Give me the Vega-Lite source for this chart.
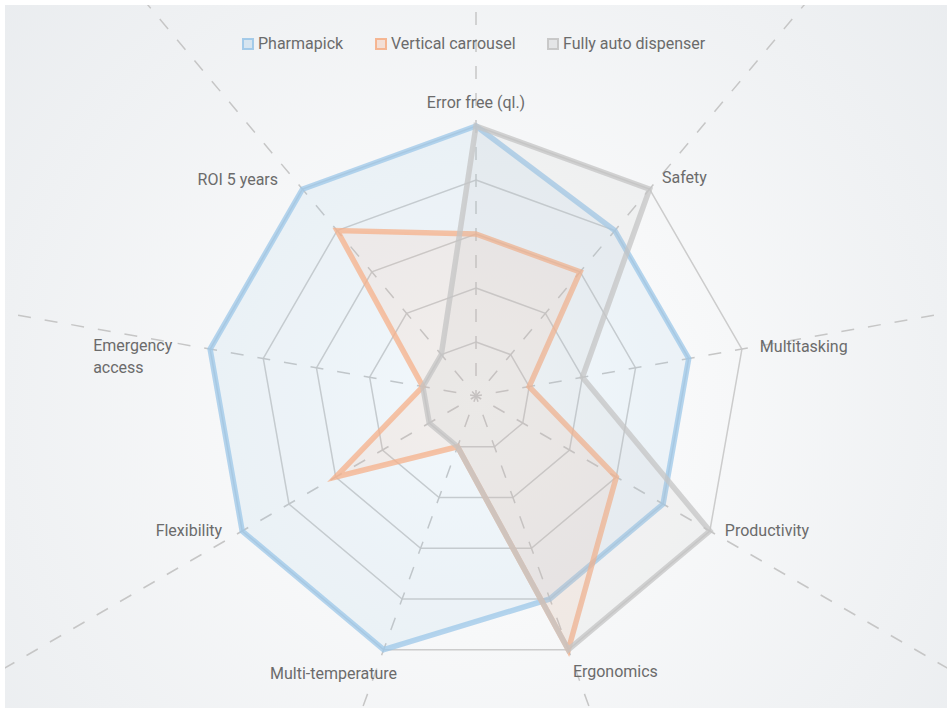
{
  "$schema": "https://vega.github.io/schema/vega-lite/v6.json",
  "width": 952,
  "height": 713,
  "autosize": {"type": "fit", "contains": "padding"},
  "padding": 5,
  "background": "#ffffff",
  "config": {"view": {"stroke": null}, "font": "Roboto"},
  "datasets": {
    "scores": [
      {"series": "Pharmapick", "axis": "Error free (ql.)", "value": 5},
      {"series": "Pharmapick", "axis": "Safety", "value": 4},
      {"series": "Pharmapick", "axis": "Multitasking", "value": 4},
      {"series": "Pharmapick", "axis": "Productivity", "value": 4},
      {"series": "Pharmapick", "axis": "Ergonomics", "value": 4},
      {"series": "Pharmapick", "axis": "Multi-temperature", "value": 5},
      {"series": "Pharmapick", "axis": "Flexibility", "value": 5},
      {"series": "Pharmapick", "axis": "Emergency access", "value": 5},
      {"series": "Pharmapick", "axis": "ROI 5 years", "value": 5},
      {"series": "Vertical carrousel", "axis": "Error free (ql.)", "value": 3},
      {"series": "Vertical carrousel", "axis": "Safety", "value": 3},
      {"series": "Vertical carrousel", "axis": "Multitasking", "value": 1},
      {"series": "Vertical carrousel", "axis": "Productivity", "value": 3},
      {"series": "Vertical carrousel", "axis": "Ergonomics", "value": 5},
      {"series": "Vertical carrousel", "axis": "Multi-temperature", "value": 1},
      {"series": "Vertical carrousel", "axis": "Flexibility", "value": 3},
      {"series": "Vertical carrousel", "axis": "Emergency access", "value": 1},
      {"series": "Vertical carrousel", "axis": "ROI 5 years", "value": 4},
      {"series": "Fully auto dispenser", "axis": "Error free (ql.)", "value": 5},
      {"series": "Fully auto dispenser", "axis": "Safety", "value": 5},
      {"series": "Fully auto dispenser", "axis": "Multitasking", "value": 2},
      {"series": "Fully auto dispenser", "axis": "Productivity", "value": 5},
      {"series": "Fully auto dispenser", "axis": "Ergonomics", "value": 5},
      {"series": "Fully auto dispenser", "axis": "Multi-temperature", "value": 1},
      {"series": "Fully auto dispenser", "axis": "Flexibility", "value": 1},
      {"series": "Fully auto dispenser", "axis": "Emergency access", "value": 1},
      {"series": "Fully auto dispenser", "axis": "ROI 5 years", "value": 1}
    ],
    "axes": [
      {"axis": "Error free (ql.)", "label": "Error free (ql.)", "levels": [1, 2, 3, 4, 5]},
      {"axis": "Safety", "label": "Safety", "levels": [1, 2, 3, 4, 5]},
      {"axis": "Multitasking", "label": "Multitasking", "levels": [1, 2, 3, 4, 5]},
      {"axis": "Productivity", "label": "Productivity", "levels": [1, 2, 3, 4, 5]},
      {"axis": "Ergonomics", "label": "Ergonomics", "levels": [1, 2, 3, 4, 5]},
      {"axis": "Multi-temperature", "label": "Multi-temperature", "levels": [1, 2, 3, 4, 5]},
      {"axis": "Flexibility", "label": "Flexibility", "levels": [1, 2, 3, 4, 5]},
      {"axis": "Emergency access", "label": "Emergency\naccess", "levels": [1, 2, 3, 4, 5]},
      {"axis": "ROI 5 years", "label": "ROI 5 years", "levels": [1, 2, 3, 4, 5]}
    ]
  },
  "layer": [
    {
      "data": {"values": [{"bg": 1}]},
      "mark": {
        "type": "rect",
        "fill": {
          "gradient": "radial",
          "x1": 0.5, "y1": 0.55, "r1": 0,
          "x2": 0.5, "y2": 0.55, "r2": 0.75,
          "stops": [
            {"offset": 0, "color": "#ffffff"},
            {"offset": 1, "color": "#e7eaed"}
          ]
        }
      },
      "encoding": {
        "x": {"value": 0},
        "x2": {"value": "width"},
        "y": {"value": 0},
        "y2": {"value": "height"}
      }
    },
    {
      "data": {"name": "axes"},
      "transform": [
        {"flatten": ["levels"], "as": ["level"]},
        {"calculate": "indexof(['Error free (ql.)','Safety','Multitasking','Productivity','Ergonomics','Multi-temperature','Flexibility','Emergency access','ROI 5 years'], datum.axis)", "as": "i"},
        {"calculate": "datum.i * 2 * PI / 9", "as": "t"},
        {"calculate": "datum.level * sin(datum.t)", "as": "px"},
        {"calculate": "datum.level * cos(datum.t)", "as": "py"}
      ],
      "mark": {"type": "line", "interpolate": "linear-closed", "stroke": "#cccccc", "strokeWidth": 1.5},
      "encoding": {
        "x": {"field": "px", "type": "quantitative", "scale": {"domain": [-8.7222, 8.7222], "nice": false, "zero": false}, "axis": null},
        "y": {"field": "py", "type": "quantitative", "scale": {"domain": [-5.7778, 7.2407], "nice": false, "zero": false}, "axis": null},
        "detail": {"field": "level", "type": "nominal"},
        "order": {"field": "i", "type": "quantitative"}
      }
    },
    {
      "data": {"name": "axes"},
      "transform": [
        {"calculate": "indexof(['Error free (ql.)','Safety','Multitasking','Productivity','Ergonomics','Multi-temperature','Flexibility','Emergency access','ROI 5 years'], datum.axis)", "as": "i"},
        {"calculate": "datum.i * 2 * PI / 9", "as": "t"},
        {"calculate": "0 * datum.i", "as": "cx"},
        {"calculate": "20 * sin(datum.t)", "as": "ex"},
        {"calculate": "20 * cos(datum.t)", "as": "ey"}
      ],
      "mark": {"type": "rule", "clip": true, "stroke": "#c6c6c6", "strokeWidth": 1.5, "strokeDash": [13, 14], "strokeDashOffset": 7},
      "encoding": {
        "x": {"field": "cx", "type": "quantitative", "scale": {"domain": [-8.7222, 8.7222], "nice": false, "zero": false}, "axis": null},
        "y": {"field": "cx", "type": "quantitative", "scale": {"domain": [-5.7778, 7.2407], "nice": false, "zero": false}, "axis": null},
        "x2": {"field": "ex"},
        "y2": {"field": "ey"}
      }
    },
    {
      "data": {"name": "scores"},
      "transform": [
        {"calculate": "indexof(['Error free (ql.)','Safety','Multitasking','Productivity','Ergonomics','Multi-temperature','Flexibility','Emergency access','ROI 5 years'], datum.axis)", "as": "i"},
        {"calculate": "datum.i * 2 * PI / 9", "as": "t"},
        {"calculate": "datum.value * sin(datum.t)", "as": "px"},
        {"calculate": "datum.value * cos(datum.t)", "as": "py"}
      ],
      "mark": {"type": "line", "interpolate": "linear-closed", "strokeWidth": 5.5, "strokeOpacity": 0.75, "fillOpacity": 0.13, "strokeJoin": "miter"},
      "encoding": {
        "x": {"field": "px", "type": "quantitative", "scale": {"domain": [-8.7222, 8.7222], "nice": false, "zero": false}, "axis": null},
        "y": {"field": "py", "type": "quantitative", "scale": {"domain": [-5.7778, 7.2407], "nice": false, "zero": false}, "axis": null},
        "stroke": {
          "field": "series", "type": "nominal",
          "scale": {"domain": ["Pharmapick", "Vertical carrousel", "Fully auto dispenser"], "range": ["#9cc7e8", "#f5b08a", "#c4c4c4"]},
          "legend": {"title": null, "orient": "none", "legendX": 235, "legendY": 31, "direction": "horizontal", "symbolType": "square", "symbolSize": 100, "symbolStrokeWidth": 2, "labelFontSize": 16, "labelColor": "#6b6b6b", "labelFont": "Roboto", "columnPadding": 28, "labelOffset": 2, "padding": 0,
            "encode": {"symbols": {"update": {"fillOpacity": {"value": 0.3}, "strokeOpacity": {"value": 0.9}}}}}
        },
        "fill": {
          "field": "series", "type": "nominal",
          "scale": {"domain": ["Pharmapick", "Vertical carrousel", "Fully auto dispenser"], "range": ["#9cc7e8", "#f5b08a", "#c4c4c4"]},
          "legend": {"title": null, "orient": "none", "legendX": 235, "legendY": 31, "direction": "horizontal", "symbolType": "square", "symbolSize": 100, "symbolStrokeWidth": 2, "labelFontSize": 16, "labelColor": "#6b6b6b", "labelFont": "Roboto", "columnPadding": 28, "labelOffset": 2, "padding": 0,
            "encode": {"symbols": {"update": {"fillOpacity": {"value": 0.3}, "strokeOpacity": {"value": 0.9}}}}}
        },
        "order": {"field": "i", "type": "quantitative"}
      }
    },
    {
      "data": {"name": "axes"},
      "transform": [
        {"calculate": "indexof(['Error free (ql.)','Safety','Multitasking','Productivity','Ergonomics','Multi-temperature','Flexibility','Emergency access','ROI 5 years'], datum.axis)", "as": "i"},
        {"calculate": "datum.i * 2 * PI / 9", "as": "t"},
        {"calculate": "5.3 * sin(datum.t)", "as": "px"},
        {"calculate": "5.3 * cos(datum.t)", "as": "py"}
      ],
      "encoding": {
        "x": {"field": "px", "type": "quantitative", "scale": {"domain": [-8.7222, 8.7222], "nice": false, "zero": false}, "axis": null},
        "y": {"field": "py", "type": "quantitative", "scale": {"domain": [-5.7778, 7.2407], "nice": false, "zero": false}, "axis": null},
        "text": {"field": "label", "type": "nominal"}
      },
      "layer": [
        {"transform": [{"filter": "datum.axis == 'Error free (ql.)'"}], "mark": {"type": "text", "align": "center", "baseline": "middle", "dy": -7, "fontSize": 16, "font": "Roboto", "color": "#6b6b6b"}},
        {"transform": [{"filter": "datum.axis == 'Safety' || datum.axis == 'Multitasking'"}], "mark": {"type": "text", "align": "left", "baseline": "middle", "dx": 2, "dy": 1, "fontSize": 16, "font": "Roboto", "color": "#6b6b6b"}},
        {"transform": [{"filter": "datum.axis == 'Productivity'"}], "mark": {"type": "text", "align": "left", "baseline": "middle", "dx": 1, "dy": -8, "fontSize": 16, "font": "Roboto", "color": "#6b6b6b"}},
        {"transform": [{"filter": "datum.axis == 'Ergonomics'"}], "mark": {"type": "text", "align": "left", "baseline": "middle", "dx": -1, "dy": 7, "fontSize": 16, "font": "Roboto", "color": "#6b6b6b"}},
        {"transform": [{"filter": "datum.axis == 'Multi-temperature'"}], "mark": {"type": "text", "align": "right", "baseline": "middle", "dx": 19, "dy": 9, "fontSize": 16, "font": "Roboto", "color": "#6b6b6b"}},
        {"transform": [{"filter": "datum.axis == 'Flexibility'"}], "mark": {"type": "text", "align": "right", "baseline": "middle", "dx": -6, "dy": -8, "fontSize": 16, "font": "Roboto", "color": "#6b6b6b"}},
        {"transform": [{"filter": "datum.axis == 'Emergency access'"}], "mark": {"type": "text", "align": "left", "baseline": "middle", "lineBreak": "\n", "lineHeight": 22, "dx": -101, "dy": 0, "fontSize": 16, "font": "Roboto", "color": "#6b6b6b"}},
        {"transform": [{"filter": "datum.axis == 'ROI 5 years'"}], "mark": {"type": "text", "align": "right", "baseline": "middle", "dx": -14, "dy": 3, "fontSize": 16, "font": "Roboto", "color": "#6b6b6b"}}
      ]
    }
  ]
}
